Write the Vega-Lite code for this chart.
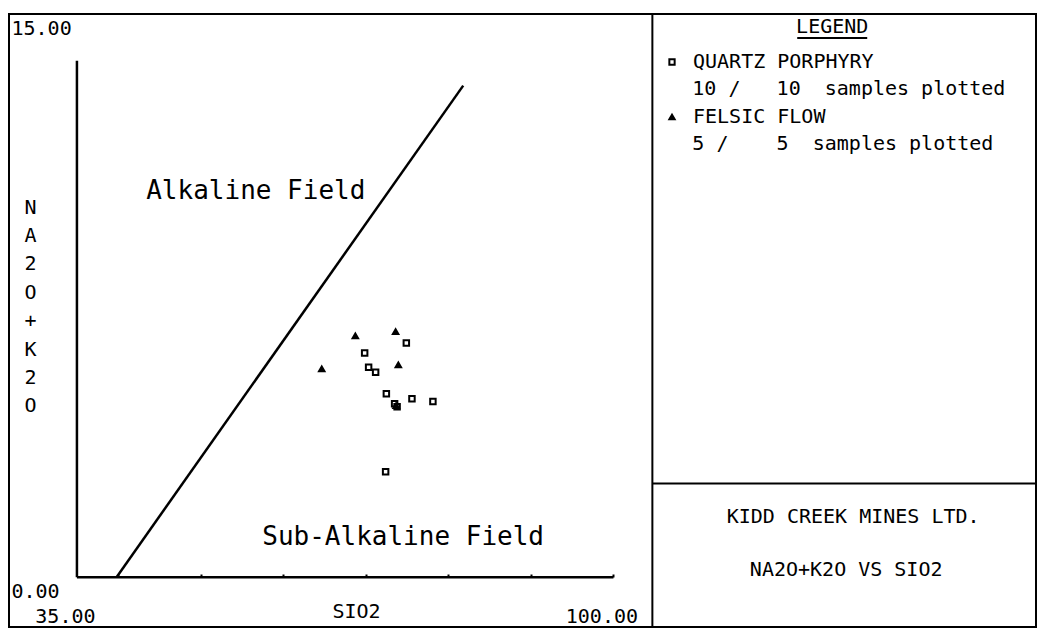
{
  "$schema": "https://vega.github.io/schema/vega-lite/v6.json",
  "width": 1038,
  "height": 634,
  "autosize": {"type": "fit", "contains": "padding"},
  "padding": {"left": 9, "top": 13, "right": 1, "bottom": 6},
  "background": "white",
  "config": {
    "view": {"stroke": "black", "strokeWidth": 2},
    "axis": {
      "labelFont": "DejaVu Sans Mono", "labelFontSize": 20, "labelColor": "black",
      "titleFont": "DejaVu Sans Mono", "titleFontSize": 20, "titleFontWeight": "normal", "titleColor": "black",
      "grid": false
    }
  },
  "datasets": {
    "samples": [
      {"rock": "QUARTZ PORPHYRY", "sio2": 74.91, "alk": 6.80},
      {"rock": "QUARTZ PORPHYRY", "sio2": 69.86, "alk": 6.51},
      {"rock": "QUARTZ PORPHYRY", "sio2": 70.34, "alk": 6.10},
      {"rock": "QUARTZ PORPHYRY", "sio2": 71.19, "alk": 5.95},
      {"rock": "QUARTZ PORPHYRY", "sio2": 72.49, "alk": 5.33},
      {"rock": "QUARTZ PORPHYRY", "sio2": 75.59, "alk": 5.18},
      {"rock": "QUARTZ PORPHYRY", "sio2": 78.13, "alk": 5.10},
      {"rock": "QUARTZ PORPHYRY", "sio2": 72.40, "alk": 3.06},
      {"rock": "QUARTZ PORPHYRY", "sio2": 73.49, "alk": 5.04},
      {"rock": "QUARTZ PORPHYRY", "sio2": 73.79, "alk": 4.95},
      {"rock": "FELSIC FLOW", "sio2": 68.73, "alk": 7.01},
      {"rock": "FELSIC FLOW", "sio2": 73.61, "alk": 7.13},
      {"rock": "FELSIC FLOW", "sio2": 64.66, "alk": 6.05},
      {"rock": "FELSIC FLOW", "sio2": 73.94, "alk": 6.17},
      {"rock": "FELSIC FLOW", "sio2": 73.67, "alk": 4.98}
    ],
    "boundary": [
      {"sio2": 39.8, "alk": 0},
      {"sio2": 81.8, "alk": 14.28}
    ],
    "one": [{}]
  },
  "layer": [
    {
      "data": {"name": "samples"},
      "mark": {"type": "point", "strokeWidth": 2, "size": 30, "opacity": 1},
      "encoding": {
        "x": {
          "field": "sio2", "type": "quantitative",
          "scale": {"domain": [26.769, 151.2], "zero": false, "nice": false},
          "axis": {
            "orient": "bottom", "offset": -50, "domain": false, "grid": false,
            "values": [35, 40, 50, 60, 70, 80, 90, 100],
            "ticks": true, "tickSize": -3, "tickWidth": 2,
            "tickColor": {"condition": {"test": "datum.value == 35", "value": "transparent"}, "value": "black"},
            "labelExpr": "datum.value == 35 || datum.value == 100 ? format(datum.value, '.2f') : ''",
            "labelOffset": -12, "labelPadding": 32, "labelBaseline": "top",
            "labelFlush": false, "labelOverlap": false,
            "title": "SIO2", "titleX": 347, "titleY": 24, "titleBaseline": "top", "titleAlign": "center"
          }
        },
        "y": {
          "field": "alk", "type": "quantitative",
          "scale": {"domain": [-1.448, 16.361], "zero": false, "nice": false},
          "axis": {
            "orient": "left", "offset": -68, "domain": false, "grid": false, "ticks": false,
            "values": [0, 15],
            "labelExpr": "format(datum.value, '.2f')",
            "labelAlign": "left", "labelPadding": 66, "labelBaseline": "middle",
            "labelOffset": {"condition": {"test": "datum.value == 15", "value": -32}, "value": 14},
            "labelFlush": false, "labelOverlap": false,
            "title": ["N", "A", "2", "O", "+", "K", "2", "O"],
            "titleAngle": 0, "titleX": -47, "titleY": 183, "titleBaseline": "top", "titleAlign": "center",
            "titleLineHeight": 28.4
          }
        },
        "shape": {
          "field": "rock", "type": "nominal",
          "scale": {"domain": ["QUARTZ PORPHYRY", "FELSIC FLOW"], "range": ["square", "triangle-up"]},
          "legend": {
            "orient": "none", "legendX": 653, "legendY": 38, "title": null,
            "labelFont": "DejaVu Sans Mono", "labelFontSize": 20, "labelColor": "black", "labelLimit": 0,
            "labelOffset": 11, "rowPadding": 35, "symbolSize": 28, "symbolStrokeWidth": 2
          }
        },
        "fill": {
          "field": "rock", "type": "nominal",
          "scale": {"domain": ["QUARTZ PORPHYRY", "FELSIC FLOW"], "range": ["transparent", "black"]},
          "legend": {
            "orient": "none", "legendX": 653, "legendY": 38, "title": null,
            "labelFont": "DejaVu Sans Mono", "labelFontSize": 20, "labelColor": "black", "labelLimit": 0,
            "labelOffset": 11, "rowPadding": 35, "symbolSize": 28, "symbolStrokeWidth": 2
          }
        },
        "stroke": {
          "field": "rock", "type": "nominal",
          "scale": {"domain": ["QUARTZ PORPHYRY", "FELSIC FLOW"], "range": ["black", "black"]},
          "legend": {
            "orient": "none", "legendX": 653, "legendY": 38, "title": null,
            "labelFont": "DejaVu Sans Mono", "labelFontSize": 20, "labelColor": "black", "labelLimit": 0,
            "labelOffset": 11, "rowPadding": 35, "symbolSize": 28, "symbolStrokeWidth": 2
          }
        }
      }
    },
    {
      "data": {"name": "boundary"},
      "mark": {"type": "line", "color": "black", "strokeWidth": 2.5},
      "encoding": {
        "x": {"field": "sio2", "type": "quantitative"},
        "y": {"field": "alk", "type": "quantitative"}
      }
    },
    {
      "data": {"name": "one"},
      "mark": {"type": "rule", "color": "black", "strokeWidth": 2.5},
      "encoding": {"x": {"datum": 35}, "x2": {"datum": 100}, "y": {"datum": 0}}
    },
    {
      "data": {"name": "one"},
      "mark": {"type": "rule", "color": "black", "strokeWidth": 2.5},
      "encoding": {"x": {"datum": 35}, "y": {"datum": 0}, "y2": {"datum": 15}}
    },
    {
      "data": {"name": "one"},
      "mark": {"type": "rule", "color": "black", "strokeWidth": 2},
      "encoding": {"x": {"datum": 104.72}}
    },
    {
      "data": {"name": "one"},
      "mark": {"type": "rule", "color": "black", "strokeWidth": 2},
      "encoding": {"x": {"datum": 104.72}, "x2": {"value": "width"}, "y": {"datum": 2.722}}
    },
    {
      "data": {"name": "one"},
      "mark": {"type": "text", "text": "LEGEND", "font": "DejaVu Sans Mono", "fontSize": 20, "color": "black", "align": "center", "baseline": "middle"},
      "encoding": {"x": {"datum": 126.51}, "y": {"datum": 15.976}}
    },
    {
      "data": {"name": "one"},
      "mark": {"type": "rule", "color": "black", "strokeWidth": 2},
      "encoding": {"x": {"datum": 122.27}, "x2": {"datum": 130.75}, "y": {"datum": 15.666}}
    },
    {
      "data": {"name": "one"},
      "mark": {"type": "text", "text": "10 /\u00a0\u00a0\u00a010\u00a0\u00a0samples plotted", "font": "DejaVu Sans Mono", "fontSize": 20, "color": "black", "align": "left", "baseline": "middle"},
      "encoding": {"x": {"datum": 109.56}, "y": {"datum": 14.181}}
    },
    {
      "data": {"name": "one"},
      "mark": {"type": "text", "text": "5 /\u00a0\u00a0\u00a0\u00a05\u00a0\u00a0samples plotted", "font": "DejaVu Sans Mono", "fontSize": 20, "color": "black", "align": "left", "baseline": "middle"},
      "encoding": {"x": {"datum": 109.56}, "y": {"datum": 12.588}}
    },
    {
      "data": {"name": "one"},
      "mark": {"type": "text", "text": "KIDD CREEK MINES LTD.", "font": "DejaVu Sans Mono", "fontSize": 20, "color": "black", "align": "center", "baseline": "middle"},
      "encoding": {"x": {"datum": 129.05}, "y": {"datum": 1.758}}
    },
    {
      "data": {"name": "one"},
      "mark": {"type": "text", "text": "NA2O+K2O VS SIO2", "font": "DejaVu Sans Mono", "fontSize": 20, "color": "black", "align": "center", "baseline": "middle"},
      "encoding": {"x": {"datum": 128.2}, "y": {"datum": 0.194}}
    },
    {
      "data": {"name": "one"},
      "mark": {"type": "text", "text": "Alkaline Field", "font": "DejaVu Sans Mono", "fontSize": 26, "color": "black", "align": "center", "baseline": "middle"},
      "encoding": {"x": {"datum": 56.67}, "y": {"datum": 11.215}}
    },
    {
      "data": {"name": "one"},
      "mark": {"type": "text", "text": "Sub-Alkaline Field", "font": "DejaVu Sans Mono", "fontSize": 26, "color": "black", "align": "center", "baseline": "middle"},
      "encoding": {"x": {"datum": 74.52}, "y": {"datum": 1.167}}
    }
  ]
}
